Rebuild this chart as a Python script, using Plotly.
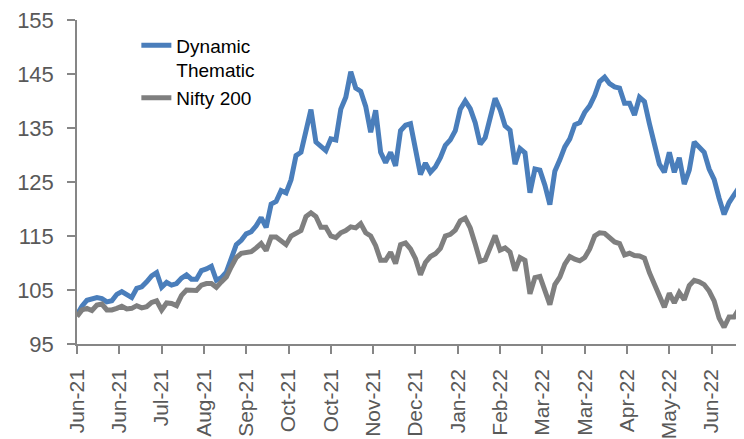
import plotly.graph_objects as go

# trading-day index (every 2nd trading day)
days = list(range(0, 270, 2))

dynamic_thematic = [
    100.4, 102.0, 103.1, 103.4, 103.6, 103.4, 102.8, 103.0, 104.2, 104.7,
    104.2, 103.6, 105.3, 105.6, 106.5, 107.6, 108.2, 105.5, 106.4, 105.9,
    106.2, 107.2, 107.8, 107.0, 107.0, 108.6, 108.9, 109.4, 106.8, 107.3,
    108.3, 110.6, 113.4, 114.2, 115.4, 115.8, 116.9, 118.4, 116.6, 120.9,
    121.4, 123.4, 123.0, 125.4, 129.9, 130.5, 134.5, 138.4, 132.4, 131.6,
    130.8, 133.0, 132.8, 138.5, 140.7, 145.4, 142.4, 141.8, 139.0, 134.2,
    138.3, 130.5, 128.6, 130.5, 128.0, 134.5, 135.5, 135.8, 130.5, 126.4,
    128.5, 126.8, 127.8, 129.5, 131.8, 132.8, 134.5, 138.5, 140.0, 138.6,
    136.0, 132.0, 133.2, 136.5, 140.5, 138.4, 135.4, 134.6, 128.3, 131.2,
    130.4, 123.0, 127.4, 127.2, 124.4, 120.8, 127.0, 129.1, 131.5, 133.0,
    135.6, 136.0, 137.9, 139.1, 141.0, 143.6, 144.4, 143.2, 142.6, 142.4,
    139.6, 139.6, 137.4, 140.7, 139.9, 135.8, 132.4, 128.3, 126.8, 130.5,
    126.8, 129.5, 124.6, 127.2, 132.4, 131.6, 130.5, 127.4, 125.5, 122.0,
    119.0, 121.2, 122.6, 124.0, 124.9,
]

nifty_200 = [
    100.1, 101.3, 101.6, 101.2, 102.2, 102.4, 101.3, 101.3, 101.6, 102.0,
    101.5, 101.6, 102.1, 101.7, 101.9, 102.7, 103.0, 101.3, 102.6, 102.5,
    102.1, 104.0, 105.0, 105.0, 104.9, 105.9, 106.2, 106.2, 105.5, 106.5,
    107.4, 109.3, 111.0, 111.8, 111.9, 112.1, 112.8, 113.6, 112.3, 114.8,
    114.8, 114.2, 113.4, 115.0, 115.6, 116.0, 118.6, 119.3, 118.6, 116.6,
    116.6, 115.0, 114.7, 115.6, 116.0, 116.7, 116.5, 117.3, 115.6, 115.0,
    113.2, 110.5, 110.5, 112.0, 109.9, 113.4, 113.7, 112.6, 110.8, 107.8,
    110.1, 111.2, 111.7, 112.7, 115.0, 115.3, 116.1, 117.8, 118.3, 116.5,
    113.5, 110.3, 110.6, 113.0, 115.1, 112.4, 112.8, 112.0, 108.6, 111.0,
    110.5, 104.3, 107.3, 107.5, 104.6, 102.3, 106.0, 107.4, 109.8, 111.2,
    110.7, 110.4, 111.0, 112.6, 115.0, 115.6, 115.5, 114.8, 113.9, 113.6,
    111.5, 111.8, 111.4, 111.3, 110.9, 108.2, 106.0, 104.0, 101.8, 104.4,
    102.6, 104.5, 103.2, 105.8, 106.8, 106.5, 106.0, 104.8, 103.0, 99.8,
    98.1, 100.0, 100.0, 101.5, 101.3,
]

tick_days = list(range(0, 256, 17))
tick_labels = ["Jun-21", "Jun-21", "Jul-21", "Aug-21", "Sep-21", "Oct-21", "Oct-21",
               "Nov-21", "Dec-21", "Jan-22", "Feb-22", "Mar-22", "Mar-22",
               "Apr-22", "May-22", "Jun-22"]
y_ticks = [95, 105, 115, 125, 135, 145, 155]

fig = go.Figure()
fig.add_trace(go.Scatter(x=days, y=dynamic_thematic, mode="lines",
                         name="Dynamic<br>Thematic",
                         line=dict(color="#4a7ebb", width=5)))
fig.add_trace(go.Scatter(x=days, y=nifty_200, mode="lines",
                         name="Nifty 200",
                         line=dict(color="#7f7f7f", width=5)))

fig.update_layout(
    width=736, height=431,
    margin=dict(l=69, r=0, t=12, b=95),
    paper_bgcolor="white", plot_bgcolor="white",
    font=dict(family="Liberation Sans, Arial, sans-serif", color="#595959"),
    showlegend=True,
    legend=dict(x=0.089, y=0.98, xanchor="left", yanchor="top",
                bgcolor="rgba(0,0,0,0)", valign="top",
                font=dict(size=19, color="#000000"),
                tracegroupgap=0, itemwidth=30),
)
fig.update_xaxes(
    range=[0, 268], tickmode="array", tickvals=tick_days, ticktext=tick_labels,
    tickangle=-90, tickfont=dict(size=21, color="#595959"), automargin=False,
    showline=True, linecolor="#868686", linewidth=1.5,
    ticks="outside", ticklen=8, tickcolor="#868686", tickwidth=1.5,
    showgrid=False, zeroline=False, ticklabelstandoff=7,
    ticklabeloverflow="allow",
)
fig.update_yaxes(
    range=[95, 155], tickmode="array", tickvals=y_ticks, automargin=False,
    tickfont=dict(size=22, color="#595959"),
    showline=True, linecolor="#868686", linewidth=1.5,
    ticks="outside", ticklen=8, tickcolor="#868686", tickwidth=1.5,
    showgrid=False, zeroline=False, ticklabelstandoff=9,
    ticklabeloverflow="allow",
)

fig.write_html("out.html")
